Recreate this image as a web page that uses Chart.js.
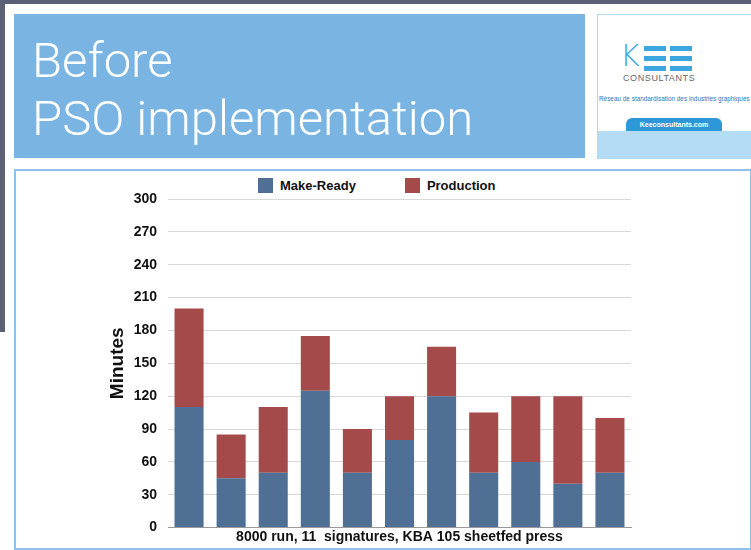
<!DOCTYPE html>
<html>
<head>
<meta charset="utf-8">
<script src="https://cdn.jsdelivr.net/npm/chart.js@4"></script>
<style>
body { margin: 0; width: 751px; height: 550px; background: #fff; position: relative; overflow: hidden; font-family: "Liberation Sans", Arial, sans-serif; }
#topStrip { position: absolute; left: 0; top: 0; width: 751px; height: 4px; background: #5c6074; }
#leftStrip { position: absolute; left: 0; top: 0; width: 5px; height: 332px; background: #5c6074; }
#titleBox { position: absolute; left: 14px; top: 14px; width: 571px; height: 144px; background: #79b4e2; }
#titleBox div { position: absolute; left: 18px; color: #fff; font-family: Roboto, "Open Sans", sans-serif; font-weight: 300; font-size: 49px; white-space: nowrap; }
#logoBox { position: absolute; left: 597px; top: 14px; width: 154px; height: 143px; border: 1px solid #b4d8f2; border-right: none; background: #fff; }
#logoBand { position: absolute; left: 0; bottom: 0; width: 154px; height: 27px; background: #b5dcf5; }
.bar { position: absolute; height: 5px; background: #3ba7de; }
#kee { position: absolute; left: 22px; top: 26px; font-family: "DejaVu Sans", sans-serif; font-weight: 200; font-size: 30px; color: #3ba7de; line-height: 30px; }
#cons { position: absolute; left: 25px; top: 58px; font-size: 9px; letter-spacing: 0.6px; color: #666; }
#reseau { position: absolute; left: 1px; top: 80px; font-size: 6.4px; color: #2a78c0; white-space: nowrap; }
#btn { position: absolute; left: 28px; top: 103px; width: 96px; height: 13px; border-radius: 6px 6px 0 0; background: #2d98d8; color: #fff; font-size: 7px; font-weight: bold; text-align: center; line-height: 13px; }
#chartBox { position: absolute; left: 14px; top: 169px; width: 734px; height: 377px; border: 2px solid #8ec2ea; }
#legend { position: absolute; top: 178px; left: 258px; font-weight: bold; font-size: 13px; color: #111; white-space: nowrap; }
#legend span.sw { display: inline-block; width: 15px; height: 15px; vertical-align: -3px; margin-right: 7px; }
canvas { position: absolute; left: 16px; top: 171px; }
</style>
</head>
<body>
<div id="topStrip"></div>
<div id="leftStrip"></div>
<div id="titleBox">
  <div style="top:18px">Before</div>
  <div style="top:76px">PSO implementation</div>
</div>
<div id="logoBox">
  <div id="kee">K</div>
  <div class="bar" style="left:46px;top:31px;width:22px"></div>
  <div class="bar" style="left:46px;top:41px;width:22px"></div>
  <div class="bar" style="left:46px;top:51px;width:22px"></div>
  <div class="bar" style="left:72px;top:31px;width:22px"></div>
  <div class="bar" style="left:72px;top:41px;width:22px"></div>
  <div class="bar" style="left:72px;top:51px;width:22px"></div>
  <div id="cons">CONSULTANTS</div>
  <div id="reseau">Réseau de standardisation des industries graphiques</div>
  <div id="logoBand"></div>
  <div id="btn">Keeconsultants.com</div>
</div>
<div id="chartBox"></div>
<div id="legend"><span class="sw" style="background:#4f6f95"></span>Make-Ready<span style="display:inline-block;width:49px"></span><span class="sw" style="background:#a54a4b"></span>Production</div>
<canvas id="canvas" width="732" height="376"></canvas>
<script>
var categories = ["1", "2", "3", "4", "5", "6", "7", "8", "9", "10", "11"];
var makeReady = [110, 45, 50, 125, 50, 80, 120, 50, 60, 40, 50];
var production = [90, 40, 60, 50, 40, 40, 45, 55, 60, 80, 50];
var yTicks = [0, 30, 60, 90, 120, 150, 180, 210, 240, 270, 300];

var ctx = document.getElementById("canvas");

window.myCharts = new Chart(ctx, {
  type: 'bar',
  data: {
    labels: categories,
    datasets: [{
      label: 'Make-Ready',
      data: makeReady,
      backgroundColor: '#4f6f95',
      categoryPercentage: 1,
      barPercentage: 0.69
    }, {
      label: 'Production',
      data: production,
      backgroundColor: '#a54a4b',
      categoryPercentage: 1,
      barPercentage: 0.69
    }]
  },
  options: {
    responsive: false,
    animation: false,
    layout: { padding: { left: 88, right: 117, top: 28, bottom: 0 } },
    plugins: { legend: { display: false }, tooltip: { enabled: false } },
    scales: {
      x: {
        stacked: true,
        grid: { display: false, drawTicks: false },
        border: { color: '#999', width: 1 },
        ticks: { display: false, padding: 0 },
        title: {
          display: true,
          text: '8000 run, 11  signatures, KBA 105 sheetfed press',
          color: '#111',
          font: { family: 'Liberation Sans', size: 14, weight: 'bold' },
          padding: { top: 1, bottom: 0 }
        }
      },
      y: {
        stacked: true,
        min: 0,
        max: 300,
        afterBuildTicks: function(scale) {
          scale.ticks = yTicks.map(function(v) { return { value: v }; });
        },
        afterFit: function(scale) { scale.width = 64; },
        grid: { color: '#d9d9d9', drawTicks: false },
        border: { display: false },
        ticks: {
          padding: 11,
          color: '#111',
          font: { family: 'Liberation Sans', size: 14, weight: 'bold' }
        },
        title: {
          display: true,
          text: 'Minutes',
          color: '#111',
          font: { family: 'Liberation Sans', size: 19, weight: 'bold' },
          padding: { top: 2, bottom: 0 }
        }
      }
    }
  }
});
</script>
</body>
</html>
